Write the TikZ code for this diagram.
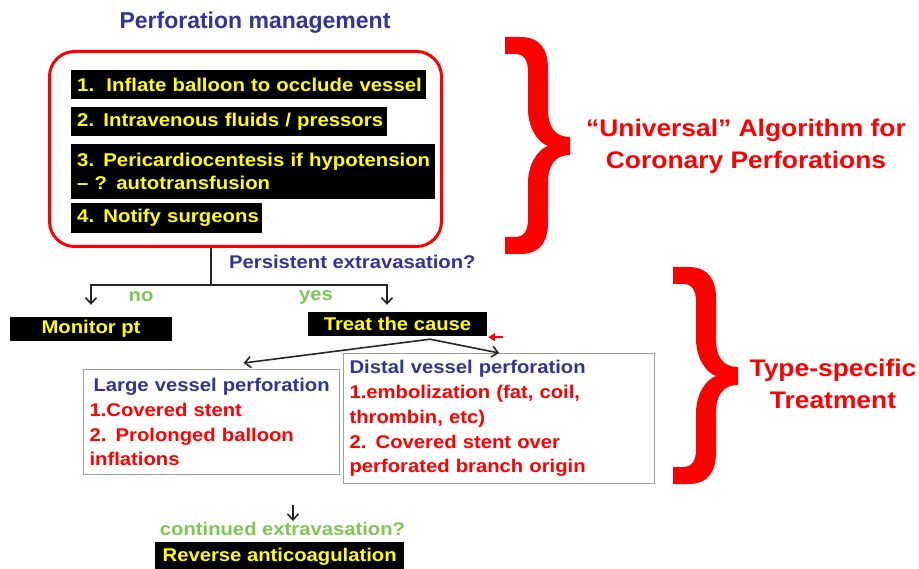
\documentclass[tikz,border=0pt]{standalone}
\usepackage{fontspec}
\setmainfont{Liberation Sans}
\newfontfamily\wide{Liberation Sans}[FakeStretch=1.1]
\usetikzlibrary{arrows.meta}
\definecolor{ttl}{RGB}{51,51,153}
\definecolor{grn}{RGB}{125,200,85}
\definecolor{ylw}{RGB}{255,255,0}
\definecolor{bord}{RGB}{160,160,160}
\begin{document}
\begin{tikzpicture}[x=1pt,y=-1pt,
  blk/.style={fill=black, text=ylw, font=\wide\bfseries\fontsize{18.5}{23}\selectfont,
    inner xsep=6pt, inner ysep=0pt, anchor=north west, align=left},
  cblk/.style={fill=black, text=ylw, font=\wide\bfseries\fontsize{18.4}{23}\selectfont,
    inner sep=0pt},
  tbox/.style={draw=bord, line width=1.2pt, fill=white, anchor=north west,
    inner xsep=6pt, align=left, font=\wide\bfseries\fontsize{18.4}{24.8}\selectfont},
  lbl/.style={font=\wide\bfseries\fontsize{18.4}{23}\selectfont, inner sep=1pt},
  big/.style={font=\wide\bfseries\fontsize{24}{32}\selectfont, text=red, align=center},
  arr/.style={-{Straight Barb[length=6pt,width=11pt]}, line width=1.6pt, draw=black!85},
  redarr/.style={-{Triangle[length=7pt,width=8pt]}, line width=2pt, draw=red},
  bracefill/.style={fill=red, draw=none}]
\clip (0,0) rectangle (919,569);
\fill[white] (0,0) rectangle (919,569);

% title
\node[font=\bfseries\fontsize{23}{26}\selectfont, text=ttl] (title) at (255,23) {Perforation management};

% red frame
\node[draw=red, line width=3pt, rounded corners=25pt, minimum width=392pt,
  minimum height=195pt, anchor=north west, inner sep=0pt] (frame) at (48,50) {};

% steps
\node[blk, text width=343pt, minimum height=29pt] (s1) at (71,70) {\mbox{1.\ \ Inflate balloon to occlude vessel}};
\node[blk, text width=304pt, minimum height=29pt] (s2) at (71,107) {\mbox{2. Intravenous fluids / pressors}};
\node[blk, text width=352pt, minimum height=55pt] (s3) at (71,144) {\mbox{3. Pericardiocentesis if hypotension}\\\mbox{– ? autotransfusion}};
\node[blk, text width=179pt, minimum height=30pt] (s4) at (71,203) {\mbox{4. Notify surgeons}};

% decision
\coordinate (j1) at (211,285);
\node[lbl, text=ttl, anchor=west] (q1) at (228,262) {Persistent extravasation?};
\node[lbl, text=grn] (no) at (141,297) {no};
\node[lbl, text=grn] (yes) at (316,297) {yes};

\node[cblk, minimum width=162pt, minimum height=24pt] (monitor) at (91,329) {Monitor pt};
\node[cblk, minimum width=179pt, minimum height=24pt] (treat) at (397.5,324) {Treat the cause};

\draw[line width=1.6pt, draw=black!85] (frame.south -| j1) -- (j1);
\draw[arr] (j1) -| ([yshift=12pt]monitor.north);
\draw[arr] (j1) -| ([xshift=-10.5pt,yshift=7pt]treat.north);

% red pointer
\draw[redarr] ([xshift=16pt,yshift=-1pt]treat.south east) -- ([xshift=1pt,yshift=-1pt]treat.south east);

% type boxes
\node[tbox, text width=244pt, minimum height=105pt] (large) at (83,369)
  {\textcolor{ttl}{\hspace*{4pt}Large vessel perforation}\\
   \textcolor{red}{1.Covered stent}\\
   \textcolor{red}{2. Prolonged balloon}\\
   \textcolor{red}{inflations}};
\node[tbox, text width=299pt, minimum height=130pt] (distal) at (343,353)
  {\textcolor{ttl}{Distal vessel perforation}\\
   \textcolor{red}{1.embolization (fat, coil,}\\
   \textcolor{red}{thrombin, etc)}\\
   \textcolor{red}{2. Covered stent over}\\
   \textcolor{red}{perforated branch origin}};

\coordinate (j2) at ([xshift=32.5pt,yshift=-3pt]treat.south);
\draw[arr] (j2) -- (distal.north);
\draw[arr] (j2) -- ([xshift=32pt,yshift=6pt]large.north);

% continued
\node[lbl, text=grn] (cont) at (282.5,529) {continued extravasation?};
\coordinate (c0) at (293,505);
\draw[arr] (c0) -- (c0 |- cont.north);
\node[cblk, minimum width=249pt, minimum height=30pt, anchor=north west] (rev) at (155,542) {Reverse anticoagulation};

% braces
\begin{scope}[shift={(505,37)}]
\fill[bracefill] (0,0) -- (15,0) .. controls (35,0) and (43,12) .. (43,32) -- (43,72)
  .. controls (43,90) and (50,100) .. (65,100) -- (65,118)
  .. controls (50,118) and (43,128) .. (43,146) -- (43,185)
  .. controls (43,205) and (35,217) .. (15,217) -- (0,217) -- (0,200) -- (10,200)
  .. controls (19,200) and (23,194) .. (23,182) -- (23,146)
  .. controls (23,128) and (32,113) .. (43,109)
  .. controls (32,105) and (23,90) .. (23,72) -- (23,35)
  .. controls (23,23) and (19,17) .. (10,17) -- (0,17) -- cycle;
\end{scope}
\begin{scope}[shift={(673,267)}]
\fill[bracefill] (0,0) -- (15,0) .. controls (35,0) and (43,12) .. (43,32) -- (43,72)
  .. controls (43,90) and (50,100) .. (65,100) -- (65,118)
  .. controls (50,118) and (43,128) .. (43,146) -- (43,185)
  .. controls (43,205) and (35,217) .. (15,217) -- (0,217) -- (0,200) -- (10,200)
  .. controls (19,200) and (23,194) .. (23,182) -- (23,146)
  .. controls (23,128) and (32,113) .. (43,109)
  .. controls (32,105) and (23,90) .. (23,72) -- (23,35)
  .. controls (23,23) and (19,17) .. (10,17) -- (0,17) -- cycle;
\end{scope}

\node[big] (univ) at (746,146) {“Universal” Algorithm for\\Coronary Perforations};
\node[big] (typ) at (833,384) {Type-specific\\Treatment};
\end{tikzpicture}
\end{document}
